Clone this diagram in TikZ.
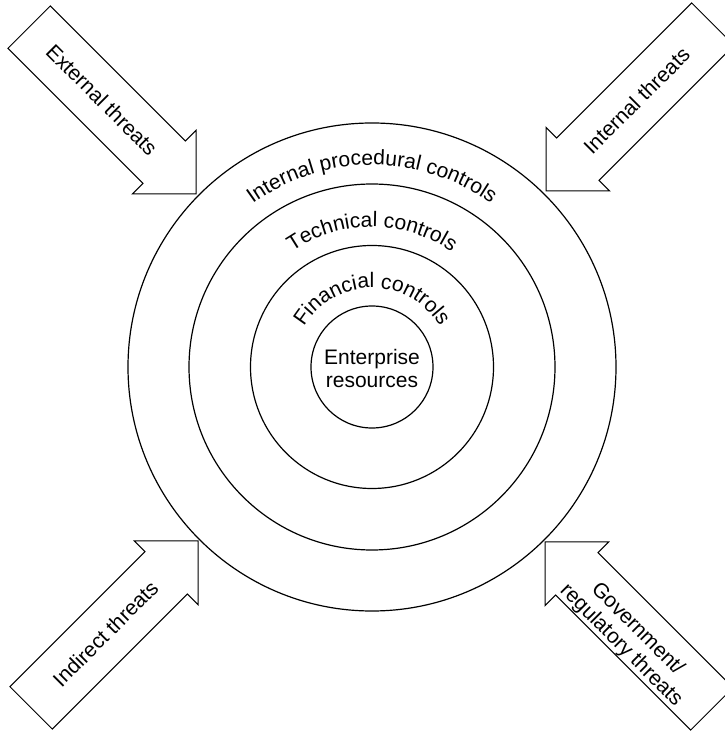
\documentclass[tikz,border=0pt]{standalone}
\usepackage{fontspec}
\setmainfont{Liberation Sans}
\usetikzlibrary{calc,decorations.text}
\newcommand\labelfont{\fontsize{21}{23}\selectfont}
\begin{document}
\begin{tikzpicture}[x=1pt,y=1pt,
  ring/.style={draw, circle, line width=1.2pt, inner sep=0pt},
  threat/.style={draw, line width=1pt, fill=white, line join=miter},
  threattext/.style={font=\labelfont, align=center, transform shape, inner sep=0pt},
  ringlabel/.style={decorate, decoration={text along path, text align=center, text={|\labelfont|#1}}},
]
\useasboundingbox (0,0) rectangle (725,732);
\clip (0,0) rectangle (725,732);

% concentric layers of control
\coordinate (c) at (372,365);
\node[ring, minimum size=488pt] (procedural) at (c) {};
\node[ring, minimum size=366pt] (technical) at (c) {};
\node[ring, minimum size=243pt] (financial) at (c) {};
\node[ring, minimum size=122pt] (core) at (c) {};
\node[font=\labelfont, align=center, inner sep=0pt] (corelabel) at ($(c)+(0,-1)$) {Enterprise\\resources};

% curved layer names
\path[ringlabel={Internal procedural controls}] ($(c)+(160:202)$) arc[start angle=160, end angle=20, radius=202];
\path[ringlabel={Technical controls}] ($(c)+(160:140)$) arc[start angle=160, end angle=20, radius=140];
\path[ringlabel={Financial controls}] ($(c)+(170:79)$) arc[start angle=170, end angle=10, radius=79];

% threat arrows, drawn with the tip at the local origin pointing along +x
\coordinate (externaltip) at (196,538);
\coordinate (internaltip) at (546,541);
\coordinate (indirecttip) at (198,191);
\coordinate (regulatorytip) at (545,190);

\begin{scope}[shift={(externaltip)}, rotate=-45]
  \draw[threat] (0,0) -- (-45,45) -- (-45,30) -- (-236,30) -- (-236,-30) -- (-45,-30) -- (-45,-45) -- cycle;
  \node[threattext] (external) at (-133,0) {External threats};
\end{scope}

\begin{scope}[shift={(internaltip)}, rotate=-135]
  \draw[threat] (0,0) -- (-45,45) -- (-45,30) -- (-236,30) -- (-236,-30) -- (-45,-30) -- (-45,-45) -- cycle;
  \node[threattext, rotate=180] (internal) at (-128,0) {Internal threats};
\end{scope}

\begin{scope}[shift={(indirecttip)}, rotate=45]
  \draw[threat] (0,0) -- (-45,45) -- (-45,30) -- (-236,30) -- (-236,-30) -- (-45,-30) -- (-45,-45) -- cycle;
  \node[threattext] (indirect) at (-131,0) {Indirect threats};
\end{scope}

\begin{scope}[shift={(regulatorytip)}, rotate=135]
  \draw[threat] (0,0) -- (-45,45) -- (-45,30) -- (-236,30) -- (-236,-30) -- (-45,-30) -- (-45,-45) -- cycle;
  \node[threattext, rotate=180] (regulatory) at (-127,8) {Government/\\regulatory threats};
\end{scope}
\end{tikzpicture}
\end{document}
